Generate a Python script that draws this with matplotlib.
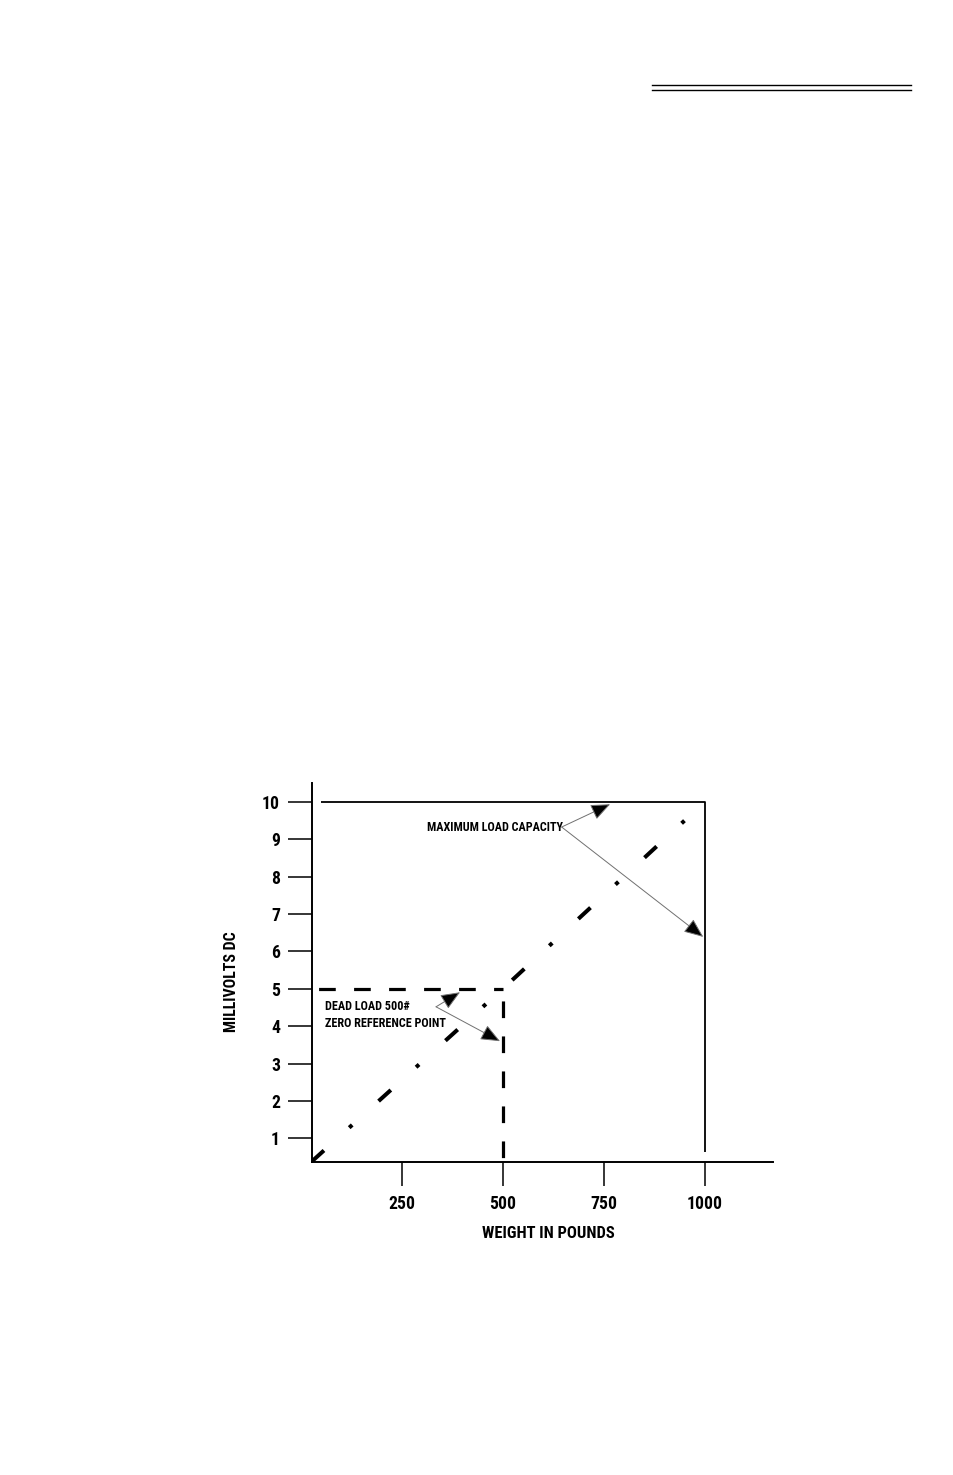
import matplotlib
matplotlib.use("Agg")
import matplotlib.pyplot as plt
from matplotlib import font_manager
from matplotlib.lines import Line2D

# load cell output, mV DC vs weight
weight_ticks = [250, 500, 750, 1000]
mv_ticks = [1, 2, 3, 4, 5, 6, 7, 8, 9, 10]
response_lbs = [27, 500, 950]
response_mv = [0.38, 5.0, 9.5]
dead_load_lbs = 500
dead_load_mv = 5
capacity_lbs = 1000
capacity_mv = 10

# narrow heavy font if there is one
fonts = font_manager.fontManager.ttflist
names = {f.name for f in fonts}
family, stretch = None, 'normal'
for n in ['Liberation Sans Narrow', 'Roboto Condensed', 'Open Sans Condensed', 'Arial Narrow']:
    if n in names:
        family = n
        break
if family is None:
    if any(f.name == 'DejaVu Sans' and f.stretch not in ('normal', 500) for f in fonts):
        family, stretch = 'DejaVu Sans', 'condensed'
    elif 'Roboto' in names:
        family = 'Roboto'
    else:
        family = 'DejaVu Sans'
weight = 'heavy'
plt.rcParams['font.family'] = [family, 'DejaVu Sans']
plt.rcParams['font.stretch'] = stretch
plt.rcParams['font.weight'] = weight
plt.rcParams['lines.scale_dashes'] = False

fig = plt.figure(figsize=(9.54, 14.75), dpi=100)

# scale all text so the x label is as wide as in the original (133 px)
renderer = fig.canvas.get_renderer()
probe = fig.text(0, 0, 'WEIGHT IN POUNDS', fontsize=12, fontweight=weight)
k = 133.3 / probe.get_window_extent(renderer).width
probe.remove()

ax = fig.add_axes([311.7/954, 1-1161.7/1475, 461.6/954, 378.4/1475])
ax.set_xlim(27, 1170)
ax.set_ylim(0.376, 10.5)

for s in ['top', 'right']:
    ax.spines[s].set_visible(False)
for s in ['left', 'bottom']:
    ax.spines[s].set_linewidth(1.4)

ax.set_xticks(weight_ticks)
ax.set_xticklabels([str(w) for w in weight_ticks])
ax.set_yticks(mv_ticks)
ax.set_yticklabels([str(v) for v in mv_ticks])
ax.tick_params(axis='both', direction='out', length=17.5, width=1.1, labelsize=12.8*k)
ax.tick_params(axis='y', pad=5.3)
ax.tick_params(axis='x', pad=6.5)

ax.set_xlabel('WEIGHT IN POUNDS', fontsize=12*k, fontweight=weight, va='center')
ax.xaxis.set_label_coords((548.3-311.7)/461.6, (1161.7-1233.3)/378.4)
ax.set_ylabel('MILLIVOLTS DC', fontsize=11.5*k, fontweight=weight, va='center')
ax.yaxis.set_label_coords((231.7-311.7)/461.6, (1161.7-981.7)/378.4)

# capacity box
ax.plot([50, capacity_lbs, capacity_lbs], [capacity_mv, capacity_mv, 0.64],
        color='black', lw=1.3, solid_capstyle='butt')

# dead load reference lines
x0 = ax.get_xlim()[0]
y0 = ax.get_ylim()[0]
ax.plot([x0, dead_load_lbs], [dead_load_mv, dead_load_mv], color='black', lw=2.3,
        linestyle=(20.45, (12, 13.2)), dash_capstyle='butt')
ax.plot([dead_load_lbs, dead_load_lbs], [dead_load_mv, y0], color='black', lw=2.3,
        linestyle=(16.6, (12, 13.2)), dash_capstyle='butt')

# output line
ax.plot(response_lbs, response_mv, color='black', lw=2.9,
        linestyle=(0, (11.9, 24.5, 2.9, 25.6)), dash_capstyle='butt')

arrow = dict(arrowstyle='-|>,head_length=0.6,head_width=0.25', mutation_scale=20,
             edgecolor='#707070', facecolor='black', lw=0.7, shrinkA=0, shrinkB=0)

ax.text(311.9, 9.22, 'MAXIMUM LOAD CAPACITY', fontsize=8.8*k, fontweight=weight,
        ha='left', va='baseline')
ax.annotate('', xy=(766, 9.94), xytext=(646, 9.33), arrowprops=arrow)
ax.annotate('', xy=(996.5, 6.39), xytext=(646, 9.33), arrowprops=arrow)

ax.text(60, 4.43, 'DEAD LOAD 500#', fontsize=8.8*k, fontweight=weight,
        ha='left', va='baseline')
ax.text(60, 3.99, 'ZERO REFERENCE POINT', fontsize=8.8*k, fontweight=weight,
        ha='left', va='baseline')
ax.annotate('', xy=(394.3, 4.91), xytext=(334.9, 4.52), arrowprops=arrow)
ax.annotate('', xy=(493.3, 3.60), xytext=(334.9, 4.52), arrowprops=arrow)

# page header rule
for ypx in [85.3, 90.3]:
    fig.add_artist(Line2D([652.3/954, 910.7/954], [1-ypx/1475, 1-ypx/1475],
                          color='black', lw=1.0))

fig.savefig('out.png', dpi=100)
